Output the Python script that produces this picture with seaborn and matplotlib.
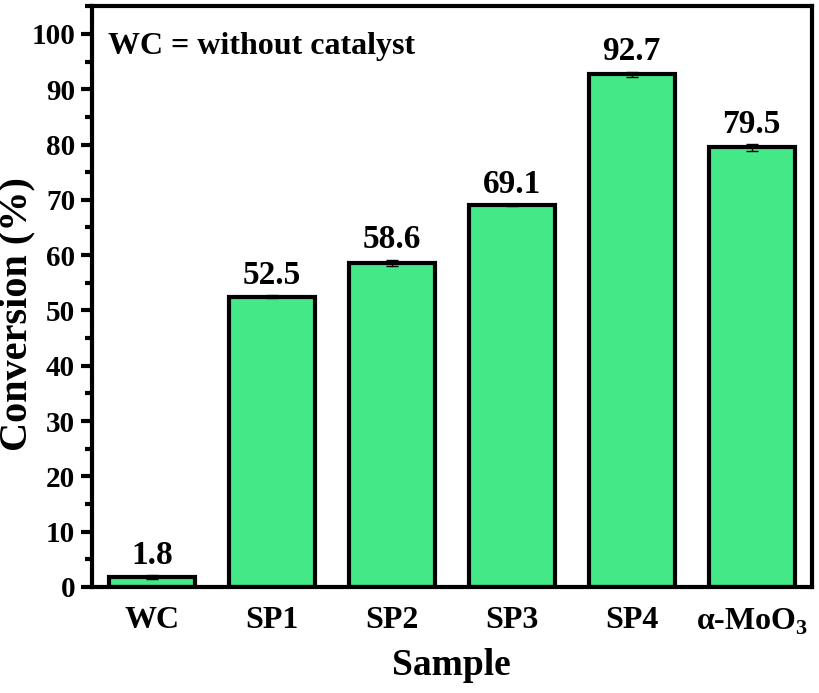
import numpy as np
import pandas as pd
import matplotlib
matplotlib.use("Agg")
import matplotlib.pyplot as plt
from matplotlib.ticker import MultipleLocator
import seaborn as sns

samples = ["WC", "SP1", "SP2", "SP3", "SP4", "α-MoO$_\\mathbf{3}$"]
conversion = [1.8, 52.5, 58.6, 69.1, 92.7, 79.5]
errors = [0.3, 0.2, 0.6, 0.15, 0.5, 0.6]

sns.set_theme(style="ticks")
plt.rcParams['font.family'] = ['Liberation Serif', 'DejaVu Serif']
plt.rcParams['font.weight'] = 'bold'
plt.rcParams['mathtext.fontset'] = 'custom'
plt.rcParams['mathtext.rm'] = 'Liberation Serif:bold'
plt.rcParams['mathtext.bf'] = 'Liberation Serif:bold'
for key in ['text.color', 'axes.labelcolor', 'xtick.color', 'ytick.color', 'axes.edgecolor']:
    plt.rcParams[key] = 'black'

df = pd.DataFrame({"Sample": samples, "Conversion": conversion, "err": errors})

fig = plt.figure(figsize=(8.2, 6.93), dpi=100)
ax = fig.add_axes([0.112, 0.153, 0.878, 0.838])

sns.barplot(data=df, x="Sample", y="Conversion", color="#45E887", saturation=1,
            width=0.72, edgecolor="black", linewidth=3, errorbar=None, ax=ax)
ax.errorbar(x=np.arange(len(samples)), y=df["Conversion"], yerr=df["err"],
            fmt="none", ecolor="black", elinewidth=1, capsize=4.5, capthick=1, zorder=5)

for i, v in enumerate(conversion):
    ax.annotate(f"{v}", (i, v + errors[i]), xytext=(0, 3), textcoords="offset points",
                ha="center", va="bottom", fontsize=24, fontweight="bold")

ax.set_ylim(0, 105)
ax.set_xlim(-0.5, 5.5)
ax.yaxis.set_major_locator(MultipleLocator(10))
ax.yaxis.set_minor_locator(MultipleLocator(5))
ax.tick_params(axis="y", which="major", direction="out", length=8, width=3, labelsize=21, pad=4)
ax.tick_params(axis="y", which="minor", direction="out", length=5, width=3)
ax.tick_params(axis="x", length=0, labelsize=23, pad=14)
for lab in ax.get_xticklabels() + ax.get_yticklabels():
    lab.set_fontweight("bold")
for s in ax.spines.values():
    s.set_linewidth(3)

ax.set_xlabel("Sample", fontsize=27, fontweight="bold", labelpad=8)
ax.set_ylabel("Conversion (%)", fontsize=29, fontweight="bold")
ax.yaxis.set_label_coords(-0.078, 0.47)
ax.text(0.022, 0.955, "WC = without catalyst", transform=ax.transAxes,
        fontsize=23, fontweight="bold", va="top", ha="left")

fig.savefig("out.png", dpi=100)
